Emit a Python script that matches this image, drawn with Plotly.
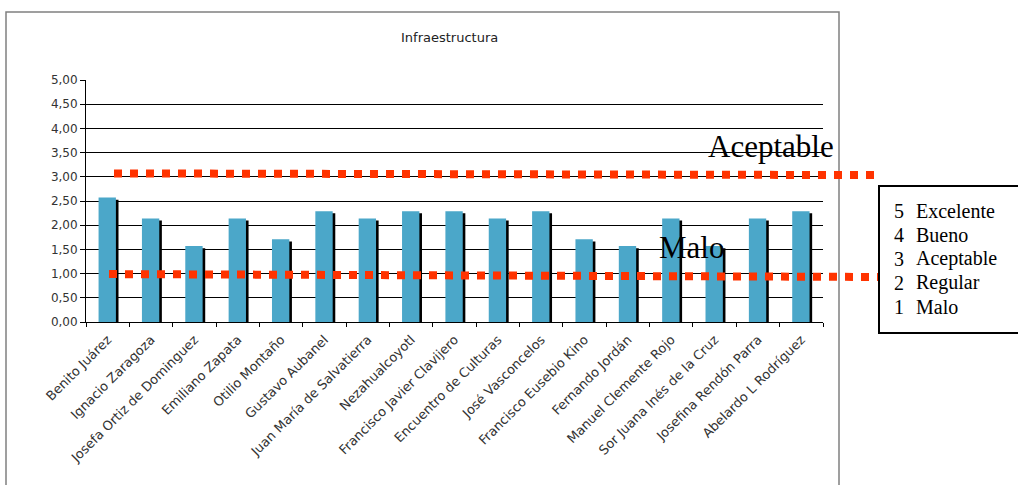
import plotly.graph_objects as go

# Escuelas evaluadas y su calificación promedio de infraestructura
escuelas = [
    "Benito Juárez", "Ignacio Zaragoza", "Josefa Ortiz de Dominguez",
    "Emiliano Zapata", "Otilio Montaño", "Gustavo Aubanel",
    "Juan María de Salvatierra", "Nezahualcoyotl", "Francisco Javier Clavijero",
    "Encuentro de Culturas", "José Vasconcelos", "Francisco Eusebio Kino",
    "Fernando Jordán", "Manuel Clemente Rojo", "Sor Juana Inés de la Cruz",
    "Josefina Rendón Parra", "Abelardo L Rodríguez",
]
calificacion = [2.57, 2.14, 1.57, 2.14, 1.71, 2.29, 2.14, 2.29, 2.29,
                2.14, 2.29, 1.71, 1.57, 2.14, 1.57, 2.14, 2.29]

# Niveles de referencia dibujados como líneas punteadas (inicio, fin)
nivel_aceptable = [3.07, 3.035]
nivel_malo = [0.99, 0.93]

escala_num = ["5", "4", "3", "2", "1"]
escala_txt = ["Excelente", "Bueno", "Aceptable", "Regular", "Malo"]

y_ticks = [0, 0.5, 1, 1.5, 2, 2.5, 3, 3.5, 4, 4.5, 5]
y_ticktext = ["0,00", "0,50", "1,00", "1,50", "2,00", "2,50",
              "3,00", "3,50", "4,00", "4,50", "5,00"]

W_FIG, H_FIG = 1018, 485
L, R, T, B = 86, 823, 80, 322


def px(x):
    return (x - L) / (R - L)


def py(y):
    return 1 - (y - T) / (B - T)


AZUL = "#4BA7C9"
ROJO = "#FF3300"
SERIF = "Liberation Serif, Times New Roman, serif"
SANS = "DejaVu Sans, Verdana, sans-serif"

fig = go.Figure()

# sombra de las barras
fig.add_trace(go.Bar(
    x=escuelas, y=calificacion, base=-0.045,
    width=0.4, offset=-0.15,
    marker=dict(color="#000000", line=dict(width=0)),
    hoverinfo="skip", showlegend=False,
))
fig.add_trace(go.Bar(
    x=escuelas, y=calificacion,
    width=0.4, offset=-0.21,
    marker=dict(color=AZUL, line=dict(width=0)),
    showlegend=False,
))

shapes = [
    # marco del gráfico
    dict(type="rect", xref="paper", yref="paper",
         x0=px(6), x1=px(839), y0=py(492), y1=py(12),
         line=dict(color="#808080", width=1.5), layer="below"),
    # líneas de referencia
    dict(type="line", xref="paper", yref="y",
         x0=px(114), x1=px(876), y0=nivel_aceptable[0], y1=nivel_aceptable[1],
         line=dict(color=ROJO, width=8, dash="8px,8px")),
    dict(type="line", xref="paper", yref="y",
         x0=px(109), x1=px(879), y0=nivel_malo[0], y1=nivel_malo[1],
         line=dict(color=ROJO, width=8, dash="8px,8px")),
    # recuadro de la escala
    dict(type="rect", xref="paper", yref="paper",
         x0=px(879), x1=px(1030), y0=py(333), y1=py(186),
         line=dict(color="#000000", width=2), fillcolor="white"),
]

annotations = [
    dict(text="Infraestructura", xref="paper", yref="paper",
         x=px(449.5), y=py(38), xanchor="center", yanchor="middle",
         showarrow=False, font=dict(family=SANS, size=13, color="#222222")),
    dict(text="Aceptable", xref="paper", yref="paper",
         x=px(836), y=py(146.5), xanchor="right", yanchor="middle",
         showarrow=False, font=dict(family=SERIF, size=31, color="#000000")),
    dict(text="Malo", xref="paper", yref="paper",
         x=px(657), y=py(247.5), xanchor="left", yanchor="middle",
         showarrow=False, font=dict(family=SERIF, size=31, color="#000000")),
]
for i, (n, t) in enumerate(zip(escala_num, escala_txt)):
    yc = 210.5 + 24 * i
    annotations.append(dict(text=n, xref="paper", yref="paper",
                            x=px(892), y=py(yc), xanchor="left", yanchor="middle",
                            showarrow=False,
                            font=dict(family=SERIF, size=20, color="#000000")))
    annotations.append(dict(text=t, xref="paper", yref="paper",
                            x=px(914), y=py(yc), xanchor="left", yanchor="middle",
                            showarrow=False,
                            font=dict(family=SERIF, size=20, color="#000000")))

fig.update_layout(
    width=W_FIG, height=H_FIG,
    margin=dict(l=L, r=W_FIG - R, t=T, b=H_FIG - B, pad=0),
    paper_bgcolor="white", plot_bgcolor="white",
    barmode="overlay",
    shapes=shapes, annotations=annotations,
    xaxis=dict(
        type="category", tickangle=-45, tickson="boundaries",
        ticks="outside", ticklen=4, tickcolor="#000000",
        ticklabelstandoff=4,
        showline=True, linecolor="#000000", linewidth=1,
        showgrid=False, zeroline=False,
        tickfont=dict(family=SANS, size=13, color="#333333"),
        range=[-0.5, len(escuelas) - 0.5],
    ),
    yaxis=dict(
        range=[0, 5], tickvals=y_ticks, ticktext=y_ticktext,
        ticks="outside", ticklen=5, tickcolor="#000000",
        showline=True, linecolor="#000000", linewidth=1,
        showgrid=True, gridcolor="#000000", gridwidth=1,
        zeroline=False,
        tickfont=dict(family=SANS, size=12, color="#333333"),
    ),
)

fig.write_html("out.html")
